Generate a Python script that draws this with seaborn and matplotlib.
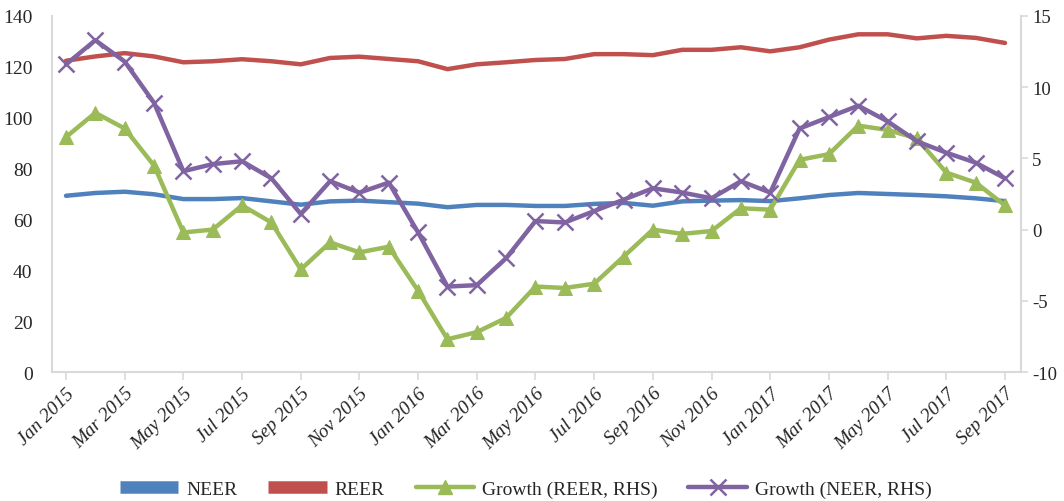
import matplotlib
matplotlib.use("Agg")
import matplotlib.pyplot as plt
from matplotlib.lines import Line2D
import seaborn as sns
import pandas as pd
import numpy as np

# Monthly effective exchange rate indices and their growth rates
months = ["Jan 2015", "Feb 2015", "Mar 2015", "Apr 2015", "May 2015", "Jun 2015",
          "Jul 2015", "Aug 2015", "Sep 2015", "Oct 2015", "Nov 2015", "Dec 2015",
          "Jan 2016", "Feb 2016", "Mar 2016", "Apr 2016", "May 2016", "Jun 2016",
          "Jul 2016", "Aug 2016", "Sep 2016", "Oct 2016", "Nov 2016", "Dec 2016",
          "Jan 2017", "Feb 2017", "Mar 2017", "Apr 2017", "May 2017", "Jun 2017",
          "Jul 2017", "Aug 2017", "Sep 2017"]

neer = [69.3, 70.4, 70.9, 69.9, 68.0, 68.0, 68.4, 67.1, 65.8, 67.1, 67.4, 66.8,
        66.2, 64.8, 65.7, 65.7, 65.3, 65.3, 66.1, 66.5, 65.4, 67.1, 67.4, 67.6,
        67.2, 68.3, 69.6, 70.4, 70.0, 69.6, 69.1, 68.3, 67.2]

reer = [122.4, 124.1, 125.4, 124.1, 121.8, 122.2, 123.0, 122.2, 121.0, 123.5, 124.0, 123.1,
        122.2, 119.1, 121.0, 121.8, 122.7, 123.1, 125.0, 125.0, 124.6, 126.7, 126.7, 127.7,
        126.1, 127.7, 130.7, 132.8, 132.8, 131.2, 132.2, 131.4, 129.4]

growth_reer = [6.5, 8.2, 7.1, 4.5, -0.2, 0.0, 1.7, 0.5, -2.8, -0.9, -1.6, -1.2,
               -4.3, -7.7, -7.2, -6.2, -4.0, -4.1, -3.8, -1.9, 0.0, -0.3, -0.1, 1.5,
               1.4, 4.9, 5.3, 7.3, 7.0, 6.4, 4.0, 3.3, 1.7]

growth_neer = [11.6, 13.3, 11.8, 8.9, 4.1, 4.6, 4.8, 3.6, 1.1, 3.4, 2.6, 3.3,
               -0.2, -4.0, -3.9, -2.0, 0.6, 0.5, 1.3, 2.1, 2.9, 2.6, 2.2, 3.4,
               2.6, 7.1, 7.9, 8.7, 7.6, 6.2, 5.4, 4.7, 3.6]

C_NEER = "#4F81BD"
C_REER = "#C0504D"
C_GR = "#9BBB59"
C_GN = "#8064A2"
AXIS_GREY = "#D9D9D9"

sns.set_theme(style="white")
plt.rcParams["font.family"] = ["Liberation Serif", "DejaVu Serif"]
plt.rcParams["font.size"] = 12
plt.rcParams["axes.unicode_minus"] = False

df = pd.DataFrame({
    "idx": np.arange(len(months)),
    "NEER": neer,
    "REER": reer,
    "Growth (REER, RHS)": growth_reer,
    "Growth (NEER, RHS)": growth_neer,
})

fig = plt.figure(figsize=(10.64, 5.02), dpi=100)
ax = fig.add_axes([52 / 1064, 1 - 373 / 502, (1021 - 52) / 1064, (373 - 17) / 502])
ax2 = ax.twinx()

sns.lineplot(data=df, x="idx", y="NEER", ax=ax, color=C_NEER, lw=3.2, zorder=2)
sns.lineplot(data=df, x="idx", y="REER", ax=ax, color=C_REER, lw=3.2, zorder=2)
sns.lineplot(data=df, x="idx", y="Growth (REER, RHS)", ax=ax2, color=C_GR, lw=3.2,
             marker="^", markersize=10, markeredgecolor=C_GR, zorder=3)
sns.lineplot(data=df, x="idx", y="Growth (NEER, RHS)", ax=ax2, color=C_GN, lw=3.2,
             marker="x", markersize=11, markeredgewidth=1.8, markeredgecolor=C_GN, zorder=4)

ax.set_ylim(0, 140)
ax.set_yticks(np.arange(0, 141, 20))
ax2.set_ylim(-10, 15)
ax2.set_yticks(np.arange(-10, 16, 5))
ax.set_xlim(-14 / 29.34, 32 + 16 / 29.34)

tick_pos = np.arange(0, len(months), 2)
ax.set_xticks(tick_pos)
ax.set_xticklabels([months[i] for i in tick_pos], rotation=45, ha="right",
                   rotation_mode="anchor", fontsize=14, style="italic")

for a in (ax, ax2):
    a.set_xlabel("")
    a.set_ylabel("")
    a.grid(False)
    a.spines["top"].set_visible(False)

ax.spines["right"].set_visible(False)
ax.spines["left"].set_color(AXIS_GREY)
ax.spines["bottom"].set_color(AXIS_GREY)
ax.spines["left"].set_linewidth(1.5)
ax.spines["bottom"].set_linewidth(1.5)
ax2.spines["left"].set_visible(False)
ax2.spines["bottom"].set_visible(False)
ax2.spines["right"].set_color(AXIS_GREY)
ax2.spines["right"].set_linewidth(1.5)

ax.tick_params(axis="x", bottom=True, length=6, width=1.2, color=AXIS_GREY,
               pad=3)
ax.tick_params(axis="y", left=False, labelsize=14, pad=8)
ax2.tick_params(axis="y", right=True, length=5, width=1.2, color=AXIS_GREY,
                labelsize=13.5, pad=3)

handles = [
    Line2D([], [], color=C_NEER, lw=9, solid_capstyle="butt"),
    Line2D([], [], color=C_REER, lw=9, solid_capstyle="butt"),
    Line2D([], [], color=C_GR, lw=3.2, marker="^", markersize=10),
    Line2D([], [], color=C_GN, lw=3.2, marker="x", markersize=12, markeredgewidth=1.8),
]
labels = ["NEER", "REER", "Growth (REER, RHS)", "Growth (NEER, RHS)"]
fig.legend(handles, labels, loc="center", bbox_to_anchor=(0.494, 1 - 490 / 502),
           ncol=4, frameon=False, fontsize=14, handlelength=3.0, columnspacing=1.6,
           handletextpad=0.4)

fig.savefig("out.png", dpi=100)
